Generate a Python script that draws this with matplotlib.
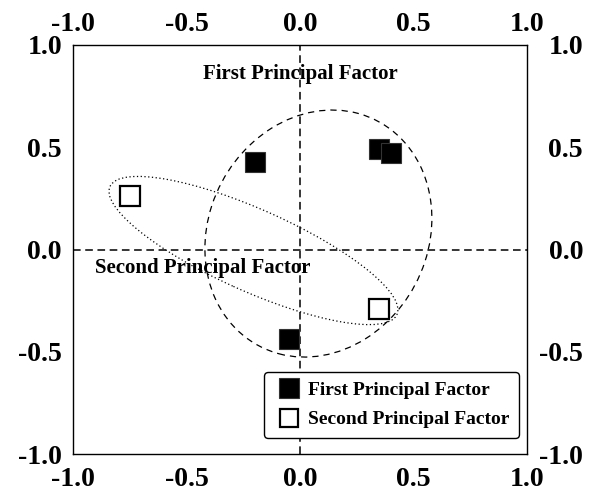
import matplotlib
matplotlib.use("Agg")
import matplotlib.pyplot as plt
import matplotlib.transforms as mtransforms
from matplotlib.patches import Ellipse

# -------------------- datos --------------------
first_x = [-0.20, 0.35, 0.40, -0.05]
first_y = [0.43, 0.49, 0.47, -0.44]
second_x = [-0.75, 0.35]
second_y = [0.26, -0.29]

ticks = [-1.0, -0.5, 0.0, 0.5, 1.0]
tick_labels = ["-1.0", "-0.5", "0.0", "0.5", "1.0"]

# elipses: centro, ancho, alto, angulo (coordenadas de datos)
first_ell = dict(xy=(0.081, 0.078), width=0.978, height=1.226, angle=-16.5)
second_ell = dict(xy=(-0.205, -0.005), width=1.411, height=0.393, angle=-26.7)

first_name = "First Principal Factor"
second_name = "Second Principal Factor"

# -------------------- figura --------------------
plt.rcParams["font.family"] = ["Liberation Serif", "DejaVu Serif"]
plt.rcParams["font.weight"] = "bold"

fig = plt.figure(figsize=(5.91, 4.93), dpi=100)
ax = fig.add_axes([73 / 591, 39 / 493, 454 / 591, 409 / 493])

ax.set_xlim(-1, 1)
ax.set_ylim(-1, 1)

# ejes cruzados
ax.axvline(0, color="black", lw=1.1, ls=(0, (5, 3)), zorder=1)
ax.axhline(0, color="black", lw=1.1, ls=(0, (5, 3)), zorder=1)

ax.add_patch(Ellipse(**first_ell, fill=False, ec="black", lw=0.9, ls=(0, (5, 4)), zorder=2))
ax.add_patch(Ellipse(**second_ell, fill=False, ec="black", lw=0.9, ls=(0, (1, 2)), zorder=2))

ax.plot(first_x, first_y, ls="none", marker="s", ms=15, mfc="black", mec="#333333",
        mew=0.8, label=first_name, zorder=3)
ax.plot(second_x, second_y, ls="none", marker="s", ms=14, mfc="white", mec="black",
        mew=1.6, label=second_name, zorder=3)

ax.text(0, 0.86, first_name, ha="center", va="center", fontsize=15, fontweight="bold")
ax.text(-0.43, -0.09, second_name, ha="center", va="center", fontsize=15, fontweight="bold")

# ticks: abajo, arriba e izquierda, sin marcas
ax.set_xticks(ticks)
ax.set_xticklabels(tick_labels)
ax.set_yticks(ticks)
ax.set_yticklabels(tick_labels)
ax.tick_params(axis="both", length=0, labelsize=20)
ax.tick_params(axis="x", top=True, labeltop=True, bottom=True, labelbottom=True, pad=9)
ax.tick_params(axis="y", left=True, labelleft=True, right=False, labelright=False, pad=8)
for t in ax.xaxis.get_major_ticks():
    t.label2.set_transform(t.label2.get_transform() +
                           mtransforms.ScaledTranslation(0, -3.5 / 72, fig.dpi_scale_trans))

# etiquetas de la derecha, alineadas a la derecha
for v, lab in zip(ticks, tick_labels):
    ax.text((583 - 73) / 454, v, lab, transform=ax.get_yaxis_transform(),
            ha="right", va="center_baseline", fontsize=20, fontweight="bold", clip_on=False)

for s in ax.spines.values():
    s.set_linewidth(1.0)

leg = ax.legend(loc="lower right", bbox_to_anchor=(0.982, 0.039), borderaxespad=0,
                fontsize=14, frameon=True, fancybox=True, edgecolor="black",
                framealpha=1, handletextpad=0.15, handlelength=1.6, labelspacing=0.6,
                markerscale=0.95, borderpad=0.5)
leg.get_frame().set_linewidth(1.0)

fig.savefig("out.png", dpi=100)
